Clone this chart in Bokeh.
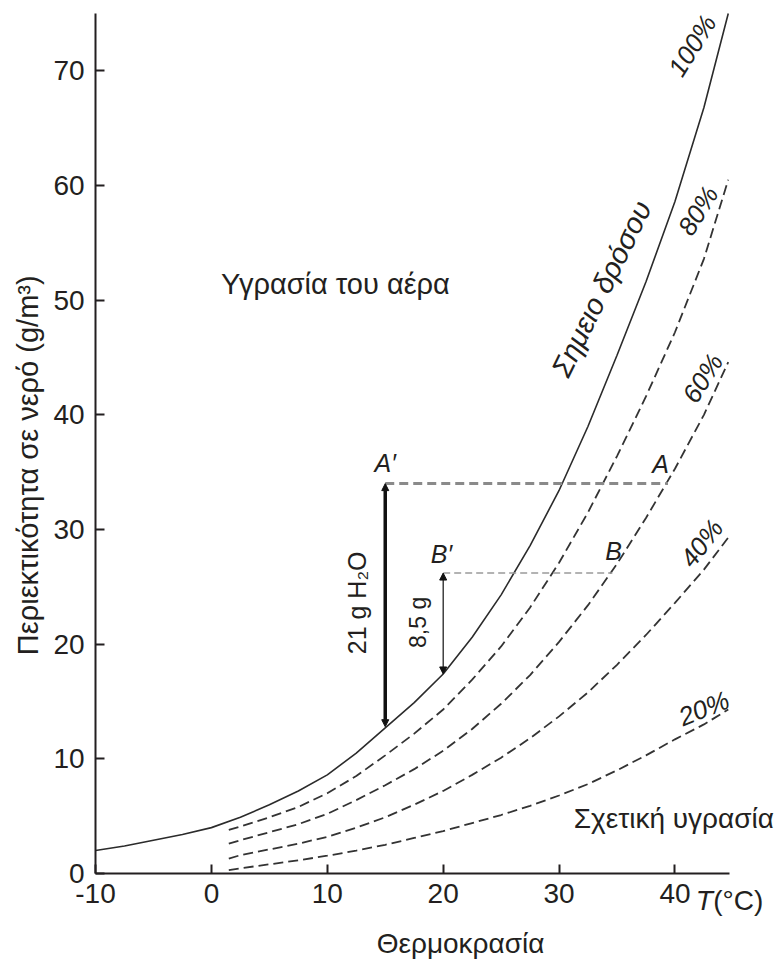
import math
from bokeh.plotting import figure
from bokeh.models import Range1d, FixedTicker, Label, Arrow, NormalHead, LinearAxis
from bokeh.embed import file_html
from bokeh.resources import INLINE

# ---- data ----
T_sat = [-10, -7.5, -5, -2.5, 0, 2.5, 5, 7.5, 10, 12.5, 15, 17.5, 20, 22.5, 25, 27.5,
         30, 32.5, 35, 37.5, 40, 42.5, 44.6]
rh100 = [2.0, 2.4, 2.9, 3.4, 4.0, 4.9, 6.0, 7.2, 8.6, 10.5, 12.7, 14.9, 17.4, 20.6, 24.3, 28.6,
         33.4, 39.0, 45.2, 51.6, 58.6, 66.8, 75.0]
T_rh = [1.5, 2.5, 5, 7.5, 10, 12.5, 15, 17.5, 20, 22.5, 25, 27.5, 30, 32.5, 35, 37.5, 40, 42.5, 44.6]
rh80 = [3.8, 4.1, 4.9, 5.8, 7.0, 8.5, 10.3, 12.2, 14.3, 16.9, 19.8, 23.2, 27.1, 31.5, 36.4,
        41.6, 47.2, 53.6, 60.5]
rh60 = [2.6, 2.9, 3.6, 4.3, 5.2, 6.4, 7.7, 9.1, 10.7, 12.6, 14.8, 17.3, 20.2, 23.4, 27.0,
        31.0, 35.3, 40.0, 44.6]
rh40 = [1.3, 1.6, 2.1, 2.6, 3.2, 4.0, 4.9, 6.0, 7.2, 8.6, 10.1, 11.8, 13.7, 15.8, 18.2,
        20.8, 23.6, 26.5, 29.3]
rh20 = [0.3, 0.45, 0.8, 1.15, 1.55, 2.0, 2.5, 3.1, 3.7, 4.4, 5.1, 5.9, 6.8, 7.8, 9.0,
        10.3, 11.7, 13.0, 14.3]

point_A = (39.4, 34.0)
point_A1 = (15.0, 34.0)
dew_A = 12.8
point_B = (34.6, 26.2)
point_B1 = (20.0, 26.2)
dew_B = 17.4

x_ticks = [-10, 0, 10, 20, 30, 40]
y_ticks = [0, 10, 20, 30, 40, 50, 60, 70]

INK = "#231f20"
FONT = "Liberation Sans"

p = figure(width=782, height=959, output_backend="svg", toolbar_location=None,
           x_range=Range1d(-18.2, 49.28), y_range=Range1d(-7.5, 76.13),
           x_axis_location=None, y_axis_location=None, min_border=0)
p.grid.visible = False
p.outline_line_color = None
p.background_fill_color = "white"
p.border_fill_color = "white"

xaxis = LinearAxis(fixed_location=0, bounds=(-10, 44.7), ticker=FixedTicker(ticks=x_ticks),
                   major_label_overrides={t: str(t) for t in x_ticks})
yaxis = LinearAxis(fixed_location=-10, bounds=(0, 75), ticker=FixedTicker(ticks=y_ticks))
for ax in (xaxis, yaxis):
    ax.axis_line_color = INK
    ax.axis_line_width = 2
    ax.major_tick_line_color = INK
    ax.major_tick_line_width = 2
    ax.major_tick_in = 9
    ax.major_tick_out = 0
    ax.minor_tick_line_color = None
    ax.major_label_text_font = FONT
    ax.major_label_text_font_size = "28px"
    ax.major_label_text_color = INK
    ax.major_label_standoff = 11
p.add_layout(xaxis, "below")
p.add_layout(yaxis, "left")

# curves
p.line(T_sat, rh100, line_color="#2b2b2b", line_width=1.6)
for ys in (rh80, rh60, rh40, rh20):
    p.line(T_rh, ys, line_color="#333333", line_width=1.8, line_dash="10 5")

# horizontal guides
p.line([point_A1[0], point_A[0]], [point_A1[1], point_A[1]], line_color="#8a8a8a",
       line_width=3, line_dash="9 5")
p.line([point_B1[0], point_B[0]], [point_B1[1], point_B[1]], line_color="#9a9a9a",
       line_width=1.4, line_dash="7 4")

# vertical arrows
p.add_layout(Arrow(x_start=point_A1[0], y_start=dew_A, x_end=point_A1[0], y_end=point_A1[1],
                   line_color="#111111", line_width=3.5,
                   start=NormalHead(size=7, fill_color="#111111", line_color="#111111"),
                   end=NormalHead(size=7, fill_color="#111111", line_color="#111111")))
p.add_layout(Arrow(x_start=point_B1[0], y_start=point_B1[1], x_end=point_B1[0], y_end=dew_B,
                   line_color="#111111", line_width=1.2,
                   start=NormalHead(size=7, fill_color="#111111", line_color="#111111", line_width=1),
                   end=NormalHead(size=7, fill_color="#111111", line_color="#111111", line_width=1)))


def lab(x, y, text, size="24px", angle=0.0, style="normal", align="center", baseline="middle"):
    p.add_layout(Label(x=x, y=y, text=text, text_font=FONT, text_font_size=size,
                       text_color=INK, text_font_style=style, angle=math.radians(angle),
                       text_align=align, text_baseline=baseline))


lab(15.0, 35.8, "A′", size="25px", style="italic")
lab(38.75, 35.7, "A", size="25px", style="italic")
lab(19.85, 27.9, "B′", size="25px", style="italic")
lab(34.7, 28.1, "B", size="25px", style="italic")
lab(12.6, 23.6, "21 g H₂O", size="25px", angle=90)
lab(17.8, 21.9, "8,5 g", size="23px", angle=90)
lab(10.7, 51.4, "Υγρασία του αέρα", size="29px")
lab(33.66, 51.0, "Σημειο δρόσου", size="29px", angle=64, style="italic")
lab(41.5, 72.2, "100%", size="26px", angle=58, style="italic")
lab(42.0, 57.8, "80%", size="26px", angle=58, style="italic")
lab(42.4, 43.2, "60%", size="26px", angle=58, style="italic")
lab(42.3, 28.8, "40%", size="26px", angle=52, style="italic")
lab(42.5, 14.4, "20%", size="26px", angle=22, style="italic")
lab(39.9, 4.8, "Σχετική υγρασία", size="28px")
lab(21.5, -6.1, "Θερμοκρασία", size="28px")
lab(41.8, -2.35, "T", size="28px", style="italic", align="left")
lab(43.3, -2.35, "(°C)", size="28px", align="left")
lab(-15.8, 35.6, "Περιεκτικότητα σε νερό (g/m³)", size="29px", angle=90)

open("out.html", "w").write(file_html(p, INLINE))
